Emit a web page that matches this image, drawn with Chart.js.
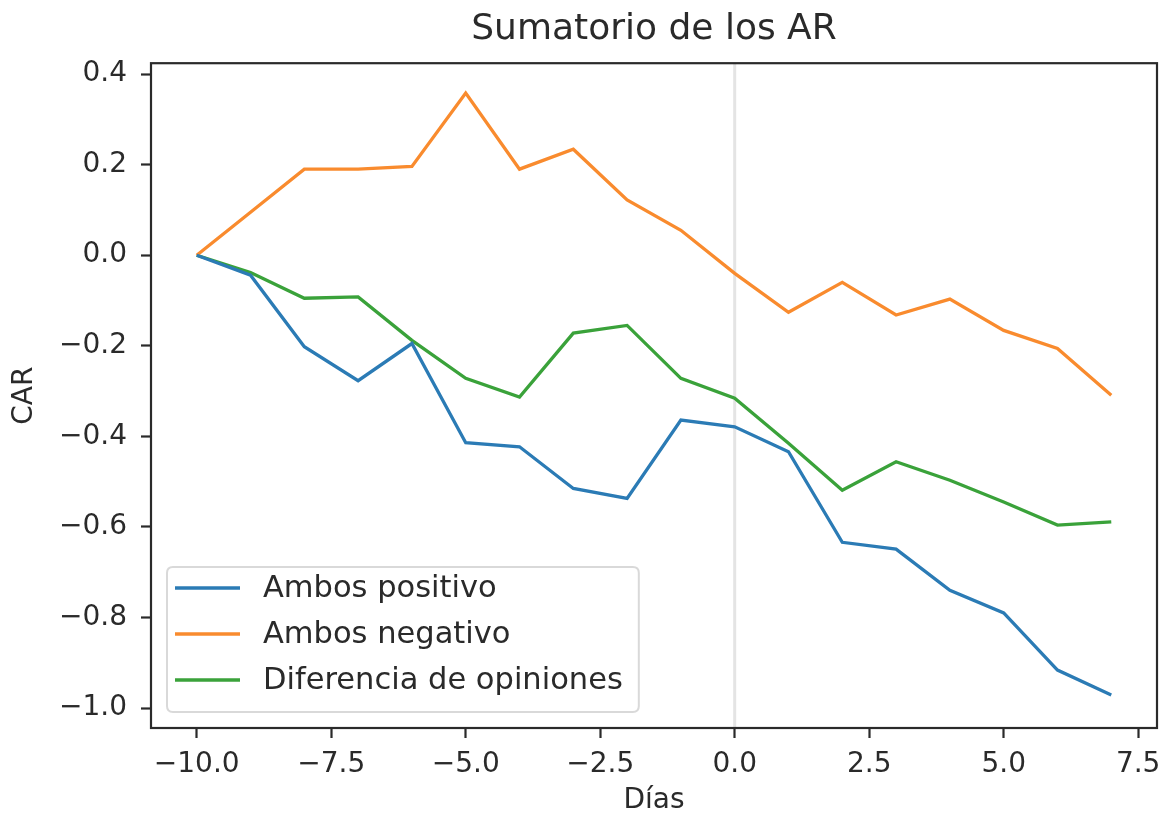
<!DOCTYPE html>
<html>
<head>
<meta charset="utf-8">
<script src="https://cdn.jsdelivr.net/npm/chart.js@4.4.0/dist/chart.umd.min.js"></script>
<style>
  html, body { margin: 0; padding: 0; background: #ffffff; }
  #wrap { width: 1174px; height: 818px; }
</style>
</head>
<body>
<div id="wrap"><canvas id="c" width="1174" height="818"></canvas></div>
<script>
// ---- data ----
const days = [-10, -9, -8, -7, -6, -5, -4, -3, -2, -1, 0, 1, 2, 3, 4, 5, 6, 7];
const ambosPositivo = [0, -0.044, -0.202, -0.277, -0.195, -0.414, -0.423, -0.515, -0.537, -0.364, -0.379, -0.434, -0.634, -0.649, -0.740, -0.790, -0.916, -0.971];
const ambosNegativo = [0, 0.095, 0.190, 0.190, 0.196, 0.358, 0.190, 0.234, 0.122, 0.055, -0.040, -0.126, -0.060, -0.132, -0.097, -0.166, -0.206, -0.309];
const diferenciaOpiniones = [0, -0.038, -0.095, -0.092, -0.188, -0.272, -0.313, -0.172, -0.155, -0.272, -0.316, -0.415, -0.519, -0.456, -0.497, -0.545, -0.596, -0.589];
const seriesNames = ['Ambos positivo', 'Ambos negativo', 'Diferencia de opiniones'];
const seriesColors = ['#2b7bb5', '#f98b2e', '#3aa23a'];
const xTickValues = [-10, -7.5, -5, -2.5, 0, 2.5, 5, 7.5];
const yTickValues = [-1.0, -0.8, -0.6, -0.4, -0.2, 0.0, 0.2, 0.4];
const eventDay = 0;
const chartTitle = 'Sumatorio de los AR';
const xTitle = 'Días';
const yTitle = 'CAR';

const FONT = "'DejaVu Sans', sans-serif";
const TXT = '#2a2a2a';

const fmt = v => (v < 0 ? '\u2212' : '') + Math.abs(v).toFixed(1);
const toPoints = arr => days.map((d, i) => ({ x: d, y: arr[i] }));

const allSeries = [ambosPositivo, ambosNegativo, diferenciaOpiniones];
const datasets = allSeries.map((arr, i) => ({
  label: seriesNames[i],
  data: toPoints(arr),
  borderColor: seriesColors[i],
  backgroundColor: seriesColors[i],
  borderWidth: 3.3,
  pointRadius: 0,
  tension: 0,
  fill: false
}));

const decor = {
  id: 'decor',
  beforeDatasetsDraw(chart) {
    const { ctx, chartArea: a, scales: { x } } = chart;
    const px = x.getPixelForValue(eventDay);
    ctx.save();
    ctx.strokeStyle = 'rgba(210,210,210,0.6)';
    ctx.lineWidth = 3;
    ctx.beginPath();
    ctx.moveTo(px, a.top);
    ctx.lineTo(px, a.bottom);
    ctx.stroke();
    ctx.restore();
  },
  afterDatasetsDraw(chart) {
    const { ctx, chartArea: a } = chart;
    ctx.save();
    // spines
    ctx.strokeStyle = '#2a2a2a';
    ctx.lineWidth = 2.2;
    ctx.strokeRect(a.left, a.top, a.right - a.left, a.bottom - a.top);

    // legend (lower left, matplotlib style)
    const fs = 30.5;
    ctx.font = fs + 'px ' + FONT;
    const names = chart.data.datasets.map(d => d.label);
    const maxW = Math.max(...names.map(n => ctx.measureText(n).width));
    const bx = a.left + 16, bh = 145;
    const by = a.bottom - 16 - bh;
    const bw = 96 + maxW + 16;
    const r = 6;
    ctx.beginPath();
    ctx.moveTo(bx + r, by);
    ctx.lineTo(bx + bw - r, by);
    ctx.quadraticCurveTo(bx + bw, by, bx + bw, by + r);
    ctx.lineTo(bx + bw, by + bh - r);
    ctx.quadraticCurveTo(bx + bw, by + bh, bx + bw - r, by + bh);
    ctx.lineTo(bx + r, by + bh);
    ctx.quadraticCurveTo(bx, by + bh, bx, by + bh - r);
    ctx.lineTo(bx, by + r);
    ctx.quadraticCurveTo(bx, by, bx + r, by);
    ctx.closePath();
    ctx.fillStyle = 'rgba(255,255,255,0.8)';
    ctx.fill();
    ctx.strokeStyle = '#d9d9d9';
    ctx.lineWidth = 2;
    ctx.stroke();
    chart.data.datasets.forEach((d, i) => {
      const y = by + 21 + i * 46;
      ctx.strokeStyle = d.borderColor;
      ctx.lineWidth = 3.3;
      ctx.beginPath();
      ctx.moveTo(bx + 8, y);
      ctx.lineTo(bx + 73, y);
      ctx.stroke();
      ctx.fillStyle = TXT;
      ctx.textBaseline = 'middle';
      ctx.textAlign = 'left';
      ctx.fillText(d.label, bx + 96, y + 1);
    });
    ctx.restore();
  }
};

new Chart(document.getElementById('c'), {
  type: 'line',
  data: { datasets },
  plugins: [decor],
  options: {
    responsive: false,
    devicePixelRatio: 1,
    animation: false,
    layout: { padding: { left: 0, right: 17, top: 0, bottom: 0 } },
    plugins: {
      legend: { display: false },
      tooltip: { enabled: false },
      title: {
        display: true,
        text: chartTitle,
        fullSize: false,
        color: TXT,
        font: { family: FONT, size: 36, weight: 'normal', lineHeight: 1.2 },
        padding: { top: 8, bottom: 12 }
      }
    },
    scales: {
      x: {
        type: 'linear',
        min: -10.85,
        max: 7.85,
        afterBuildTicks: s => { s.ticks = xTickValues.map(v => ({ value: v })); },
        afterFit: s => { s.height = 90; },
        ticks: {
          autoSkip: false, maxRotation: 0, padding: 10,
          color: TXT, font: { family: FONT, size: 28 },
          callback: v => fmt(v)
        },
        grid: { drawOnChartArea: false, drawTicks: true, tickLength: 10, tickWidth: 2.2, tickColor: '#2a2a2a' },
        border: { display: false },
        title: { display: true, text: xTitle, color: TXT, font: { family: FONT, size: 28 }, padding: { top: 0, bottom: 0 } }
      },
      y: {
        type: 'linear',
        min: -1.044,
        max: 0.424,
        afterBuildTicks: s => { s.ticks = yTickValues.map(v => ({ value: v })); },
        afterFit: s => { s.width = 151; },
        ticks: {
          padding: 14,
          color: TXT, font: { family: FONT, size: 28 },
          callback: v => fmt(v)
        },
        grid: { drawOnChartArea: false, drawTicks: true, tickLength: 10, tickWidth: 2.2, tickColor: '#2a2a2a' },
        border: { display: false },
        title: { display: true, text: yTitle, color: TXT, font: { family: FONT, size: 28 }, padding: { top: 8, bottom: 0 } }
      }
    }
  }
});
</script>
</body>
</html>
